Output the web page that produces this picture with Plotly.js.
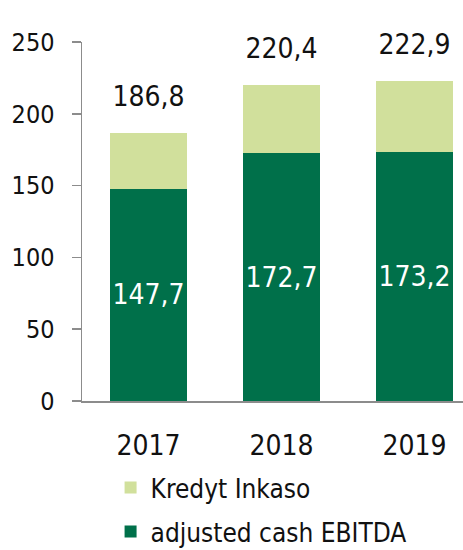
<!DOCTYPE html>
<html>
<head>
<meta charset="utf-8">
<script src="https://cdn.plot.ly/plotly-3.0.1.min.js"></script>
<style>
html,body{margin:0;padding:0;background:#fff;}
#chart{width:463px;height:550px;}
svg text{font-stretch:condensed !important;}
</style>
</head>
<body>
<div id="chart"></div>
<script>
const years = ["2017", "2018", "2019"];
const ebitda = [147.7, 172.7, 173.2];
const kredyt = [39.1, 47.7, 49.7];
const totals = [186.8, 220.4, 222.9];
const ebitdaLabels = ["147,7", "172,7", "173,2"];
const totalLabels = ["186,8", "220,4", "222,9"];
const yTicks = [0, 50, 100, 150, 200, 250];

const FONT = "'DejaVu Sans Condensed', 'DejaVu Sans', sans-serif";
const DARK = "#00704A";
const LIGHT = "#D1E09C";
const AXIS = "#8C8C8C";

const traces = [
  {
    type: "bar", name: "adjusted cash EBITDA", x: years, y: ebitda,
    marker: {color: DARK}, legendgroup: "a", legendrank: 2,
    text: ebitdaLabels, textposition: "inside", insidetextanchor: "middle",
    textangle: 0,
    textfont: {family: FONT, size: 28, color: "#ffffff"},
    constraintext: "none", hoverinfo: "none"
  },
  {
    type: "bar", name: "Kredyt Inkaso", x: years, y: kredyt,
    marker: {color: LIGHT}, legendgroup: "b", legendrank: 1, hoverinfo: "none"
  },
  {
    type: "scatter", mode: "markers+text", x: years, y: totals,
    text: totalLabels, textposition: "top center",
    marker: {size: 30, color: "rgba(0,0,0,0)"},
    textfont: {family: FONT, size: 28, color: "#111111"},
    showlegend: false, hoverinfo: "none", cliponaxis: false
  }
];

const layout = {
  width: 463, height: 550,
  margin: {l: 82, r: 0, t: 42, b: 149},
  paper_bgcolor: "#ffffff", plot_bgcolor: "#ffffff",
  barmode: "stack", bargap: 0.414,
  font: {family: FONT, color: "#111111"},
  xaxis: {
    type: "category", range: [-0.5, 2.365],
    showline: true, linecolor: AXIS, linewidth: 1.5,
    ticks: "", showgrid: false, zeroline: false,
    tickfont: {family: FONT, size: 28, color: "#111111"},
    ticklabelstandoff: 19
  },
  yaxis: {
    range: [0, 250], tickvals: yTicks, ticktext: yTicks.map(String),
    showline: true, linecolor: AXIS, linewidth: 1.5,
    ticks: "outside", ticklen: 9, tickwidth: 1.5, tickcolor: AXIS,
    showgrid: false, zeroline: false,
    tickfont: {family: FONT, size: 25, color: "#111111"},
    ticklabelstandoff: 12
  },
  showlegend: true,
  legend: {
    orientation: "v", traceorder: "grouped", tracegroupgap: 7,
    x: 0.075, xanchor: "left", yref: "container", y: 0.156, yanchor: "top",
    font: {family: FONT, size: 26, color: "#111111"},
    bgcolor: "rgba(0,0,0,0)"
  }
};

Plotly.newPlot("chart", traces, layout, {staticPlot: true, displayModeBar: false});
</script>
</body>
</html>
